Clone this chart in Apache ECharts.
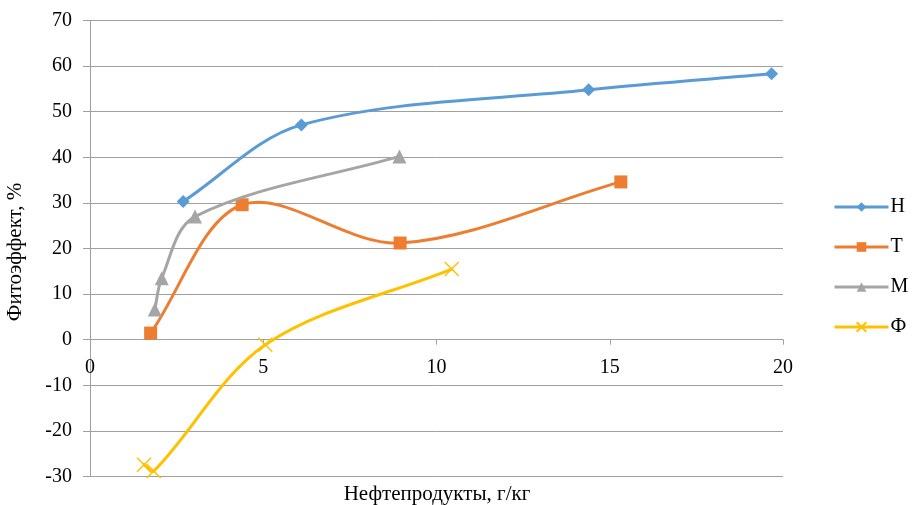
<!DOCTYPE html>
<html><head><meta charset="utf-8">
<script src="https://cdn.jsdelivr.net/npm/echarts@6/dist/echarts.min.js"></script>
<style>html,body{margin:0;padding:0;background:#fff}#c{width:914px;height:505px}</style>
</head><body><div id="c"></div>
<script>
const seriesNames = ['Н', 'Т', 'М', 'Ф'];
const xH = [2.69, 6.10, 14.39, 19.67];
const yH = [30.3, 47.1, 54.8, 58.3];
const xT = [1.75, 4.39, 8.95, 15.32];
const yT = [1.45, 29.6, 21.2, 34.6];
const xM = [1.87, 2.07, 3.03, 8.93];
const yM = [6.6, 13.5, 27.0, 40.2];
const xF = [1.56, 1.84, 5.06, 10.44];
const yF = [-27.4, -28.8, -1.1, 15.5];
const xTicks = [0, 5, 10, 15, 20];
const yTicks = [-30, -20, -10, 0, 10, 20, 30, 40, 50, 60, 70];
const xTitle = 'Нефтепродукты, г/кг';
const yTitle = 'Фитоэффект, %';

const FONT = 'Liberation Serif';
const FS = 20;
const FT = 21;
const GRID = '#A0A0A0';
const pairs = (xs, ys) => xs.map((x, i) => [x, ys[i]]);

const colors = ['#5B9BD5', '#ED7D31', '#A5A5A5', '#FFC000'];
const symbols = ['diamond', 'rect', 'triangle', 'path://M0,0L10,10M10,0L0,10'];
const sizes = [13, 13, 14, 14];
const dataSets = [pairs(xH, yH), pairs(xT, yT), pairs(xM, yM), pairs(xF, yF)];

const GRID_TOP = 20.5, GRID_BOTTOM = 28.5, H_TOTAL = 505;
const plotH = H_TOTAL - GRID_TOP - GRID_BOTTOM;
const zeroOffset = -plotH * (0 - yTicks[0]) / (yTicks[yTicks.length - 1] - yTicks[0]);

// Smooth curve (Excel-like) through the series points, converted with api.coord
function makeCurveRender(idx) {
  return function (params, api) {
    if (params.dataIndex !== 0) return null;
    const pts = dataSets[idx].map(p => api.coord(p));
    const n = pts.length;
    const t = 1 / 3;
    const dist = (a, b) => Math.hypot(b[0] - a[0], b[1] - a[1]);
    const cpOut = [], cpIn = [];
    for (let i = 0; i < n; i++) {
      const prev = pts[Math.max(0, i - 1)], next = pts[Math.min(n - 1, i + 1)], p = pts[i];
      const vx = next[0] - prev[0], vy = next[1] - prev[1];
      const dp = dist(prev, p), dn = dist(p, next);
      const s = dp + dn || 1;
      cpOut[i] = [p[0] + vx * t * dn / s, p[1] + vy * t * dn / s];
      cpIn[i] = [p[0] - vx * t * dp / s, p[1] - vy * t * dp / s];
    }
    const children = [];
    for (let i = 0; i < n - 1; i++) {
      children.push({
        type: 'bezierCurve',
        shape: {x1: pts[i][0], y1: pts[i][1], x2: pts[i + 1][0], y2: pts[i + 1][1],
                cpx1: cpOut[i][0], cpy1: cpOut[i][1], cpx2: cpIn[i + 1][0], cpy2: cpIn[i + 1][1]},
        style: {stroke: colors[idx], lineWidth: 3, fill: null, lineCap: 'round', lineJoin: 'round'}
      });
    }
    return {type: 'group', children};
  };
}

const series = [];
seriesNames.forEach((n, i) => {
  series.push({
    name: n + '_curve', type: 'custom', coordinateSystem: 'cartesian2d',
    data: dataSets[i], renderItem: makeCurveRender(i), z: 2 + 2 * i, silent: true
  });
  series.push({
    name: n, type: 'line', data: dataSets[i], smooth: false,
    symbol: symbols[i], symbolSize: sizes[i], showSymbol: true,
    lineStyle: {color: colors[i], width: 3, opacity: 0},
    itemStyle: {color: colors[i], borderColor: colors[i], borderWidth: i === 3 ? 1.4 : 0},
    z: 3 + 2 * i
  });
});

const chart = echarts.init(document.getElementById('c'), null, {renderer: 'canvas'});
chart.setOption({
  animation: false,
  backgroundColor: '#fff',
  grid: {left: 90, right: 131, top: GRID_TOP, bottom: GRID_BOTTOM, containLabel: false},
  legend: {
    orient: 'vertical', left: 828, top: 192,
    itemWidth: 54, itemHeight: 12, itemGap: 20,
    textStyle: {fontFamily: FONT, fontSize: FS, color: '#000', padding: [0, 0, 0, -3]},
    data: seriesNames.map((n, i) => ({name: n, lineStyle: {color: colors[i], width: 3, opacity: 1}}))
  },
  xAxis: {
    type: 'value', min: xTicks[0], max: xTicks[xTicks.length - 1], interval: 5,
    offset: zeroOffset,
    axisLine: {show: true, onZero: false, lineStyle: {color: GRID, width: 1}},
    axisTick: {show: true, length: 5, lineStyle: {color: GRID}},
    axisLabel: {fontFamily: FONT, fontSize: FS, color: '#000', margin: 18},
    splitLine: {show: false}
  },
  yAxis: {
    type: 'value', min: yTicks[0], max: yTicks[yTicks.length - 1], interval: 10,
    axisLine: {show: true, onZero: false, lineStyle: {color: GRID, width: 1}},
    axisTick: {show: true, length: 7, lineStyle: {color: GRID}},
    axisLabel: {fontFamily: FONT, fontSize: FS, color: '#000', margin: 18},
    splitLine: {show: true, lineStyle: {color: GRID, width: 1}}
  },
  graphic: [
    {type: 'text', x: 437, y: 494, z: 10,
     style: {text: xTitle, font: FT + 'px "' + FONT + '"', fill: '#000', align: 'center', verticalAlign: 'middle'}},
    {type: 'text', x: 15, y: 252, rotation: Math.PI / 2, z: 10,
     style: {text: yTitle, font: FT + 'px "' + FONT + '"', fill: '#000', align: 'center', verticalAlign: 'middle'}}
  ],
  series: series
});
</script></body></html>
